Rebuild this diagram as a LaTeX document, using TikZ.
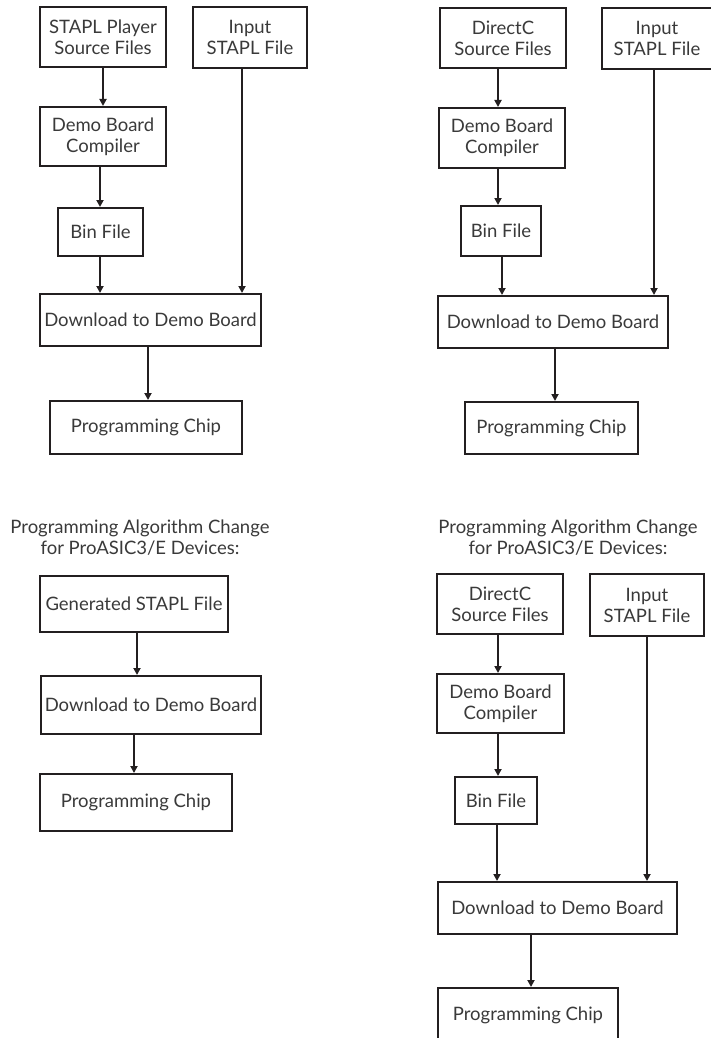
\documentclass[tikz,border=0pt]{standalone}
\usepackage{fontspec}
\setmainfont{Lato}
\usetikzlibrary{arrows.meta}
\definecolor{linecol}{HTML}{231F20}
\definecolor{txtcol}{HTML}{3A3A3A}
\newcommand\flow[3]{\coordinate (tmpx) at (#3,0); \draw[arr] (#1.south -| tmpx) -- (#2.north -| tmpx);}
\begin{document}
\begin{tikzpicture}[x=1pt,y=-1pt,
  box/.style={draw=linecol, line width=2pt, inner sep=0pt, align=center, text=txtcol,
    font=\fontsize{18.5}{21}\selectfont},
  ttl/.style={inner sep=0pt, align=center, text=txtcol, font=\fontsize{18.5}{21}\selectfont},
  arr/.style={draw=linecol, line width=2pt, -{Triangle[width=7pt,length=7pt]}}]
\useasboundingbox[fill=white] (0,0) rectangle (710,1038);
% Q1
\node[box, minimum width=126pt, minimum height=60pt] (A1) at (103,37) {STAPL Player\\Source Files};
\node[box, minimum width=114pt, minimum height=61pt] (I1) at (250,37.5) {Input\\STAPL File};
\node[box, minimum width=126pt, minimum height=59pt] (C1) at (103,136.5) {Demo Board\\Compiler};
\node[box, minimum width=85pt, minimum height=48pt] (B1) at (100.5,232) {Bin File};
\node[box, minimum width=221pt, minimum height=52pt] (D1) at (150.5,320) {Download to Demo Board};
\node[box, minimum width=192pt, minimum height=53pt] (P1) at (146,427.5) {Programming Chip};
\flow{A1}{C1}{103}
\flow{C1}{B1}{100}
\flow{B1}{D1}{100}
\flow{I1}{D1}{242}
\flow{D1}{P1}{148}
% Q2
\node[box, minimum width=126pt, minimum height=60pt] (A2) at (503,38) {DirectC\\Source Files};
\node[box, minimum width=110pt, minimum height=61pt] (I2) at (657,38.5) {Input\\STAPL File};
\node[box, minimum width=126pt, minimum height=60pt] (C2) at (502,138) {Demo Board\\Compiler};
\node[box, minimum width=80pt, minimum height=50pt] (B2) at (501,231) {Bin File};
\node[box, minimum width=230pt, minimum height=52pt] (D2) at (553,322) {Download to Demo Board};
\node[box, minimum width=173pt, minimum height=52pt] (P2) at (551.5,428) {Programming Chip};
\flow{A2}{C2}{498}
\flow{C2}{B2}{498}
\flow{B2}{D2}{502}
\flow{I2}{D2}{654}
\flow{D2}{P2}{555}
% Q3
\node[ttl] (T3) at (140,537.5) {Programming Algorithm Change\\for ProASIC3/E Devices:};
\node[box, minimum width=188pt, minimum height=56pt] (G3) at (134,604) {Generated STAPL File};
\node[box, minimum width=220pt, minimum height=58pt] (D3) at (151,705) {Download to Demo Board};
\node[box, minimum width=192pt, minimum height=57pt] (P3) at (136,802.5) {Programming Chip};
\flow{G3}{D3}{137}
\flow{D3}{P3}{134}
% Q4
\node[ttl] (T4) at (568,537.5) {Programming Algorithm Change\\for ProASIC3/E Devices:};
\node[box, minimum width=126pt, minimum height=60pt] (A4) at (500,604) {DirectC\\Source Files};
\node[box, minimum width=114pt, minimum height=62pt] (I4) at (647,605) {Input\\STAPL File};
\node[box, minimum width=127pt, minimum height=59pt] (C4) at (500.5,703.5) {Demo Board\\Compiler};
\node[box, minimum width=82pt, minimum height=47pt] (B4) at (496,800.5) {Bin File};
\node[box, minimum width=239pt, minimum height=52pt] (D4) at (557.5,908) {Download to Demo Board};
\node[box, minimum width=180pt, minimum height=54pt] (P4) at (528,1015) {Programming Chip};
\flow{A4}{C4}{498}
\flow{C4}{B4}{498}
\flow{B4}{D4}{497}
\flow{I4}{D4}{647}
\flow{D4}{P4}{531}
\end{tikzpicture}
\end{document}
